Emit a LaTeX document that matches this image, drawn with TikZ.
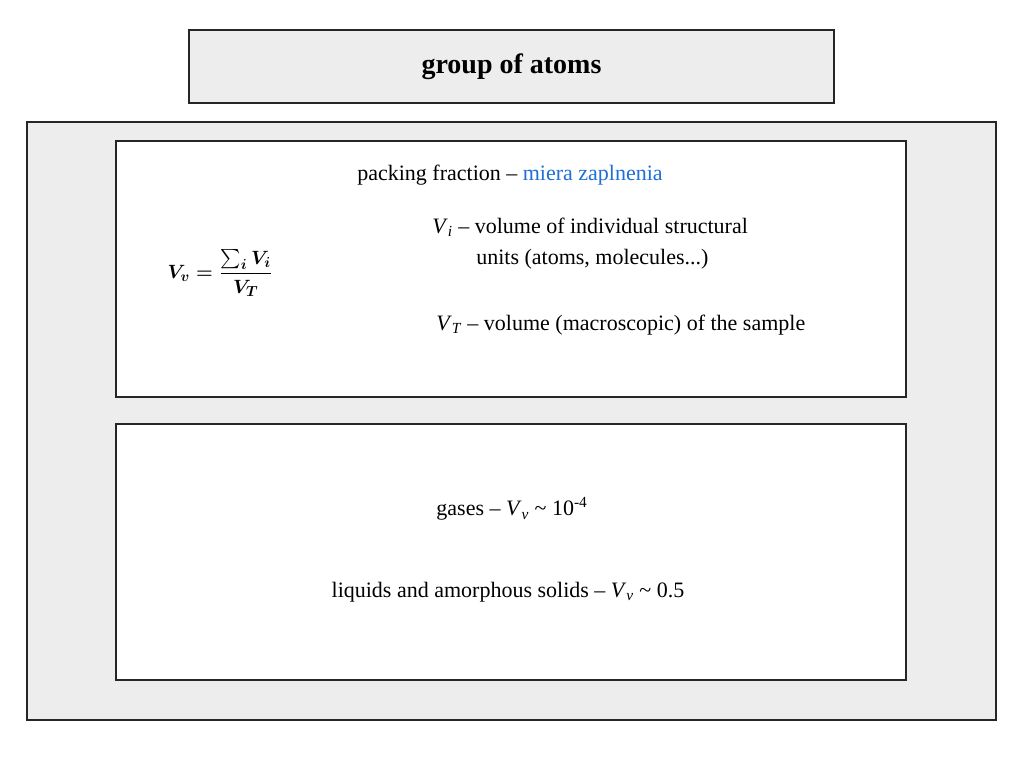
\documentclass[tikz,border=0pt]{standalone}
\usepackage{fontspec}
\usepackage{amsmath}
\setmainfont{Liberation Serif}
\begin{document}
\begin{tikzpicture}[x=0.75pt,y=-0.75pt,
  box/.style={draw=black!85,line width=1.4pt},
  txt/.style={font=\fontsize{16.5}{19}\selectfont,inner sep=0pt}]
\useasboundingbox (0,0) rectangle (1024,768);
\node[box,fill=black!7,minimum width=645*0.75pt,minimum height=73*0.75pt,font=\fontsize{21}{24}\selectfont\bfseries] (title) at (511.5,66.5) {group of atoms};
\node[box,fill=black!7,minimum width=969*0.75pt,minimum height=598*0.75pt] (outer) at (511.5,421) {};
\node[box,fill=white,minimum width=790*0.75pt,minimum height=256*0.75pt] (b1) at (511,269) {};
\node[box,fill=white,minimum width=790*0.75pt,minimum height=256*0.75pt] (b2) at (511,552) {};
\node[txt] (pf) at (510,175) {packing fraction -- \textcolor[HTML]{1F6FD8}{miera zaplnenia}};
\node[font=\fontsize{15}{18}\selectfont] (f) at (220,273) {$\boldsymbol{V_v=\dfrac{\sum_i V_i}{V_T}}$};
\node[txt,anchor=base west] (vi) at (432,233) {\textit{V}\textsubscript{\textit{i}} -- volume of individual structural};
\node[txt,anchor=base west] (vi2) at (476,264) {units (atoms, molecules...)};
\node[txt,anchor=base west] (vt) at (436,330) {\textit{V}\textsubscript{\textit{T}} -- volume (macroscopic) of the sample};
\node[txt] (g) at (512,509) {gases -- \textit{V}\textsubscript{\textit{v}} \textasciitilde{} 10\textsuperscript{-4}};
\node[txt] (l) at (508,592) {liquids and amorphous solids -- \textit{V}\textsubscript{\textit{v}} \textasciitilde{} 0.5};
\end{tikzpicture}
\end{document}
